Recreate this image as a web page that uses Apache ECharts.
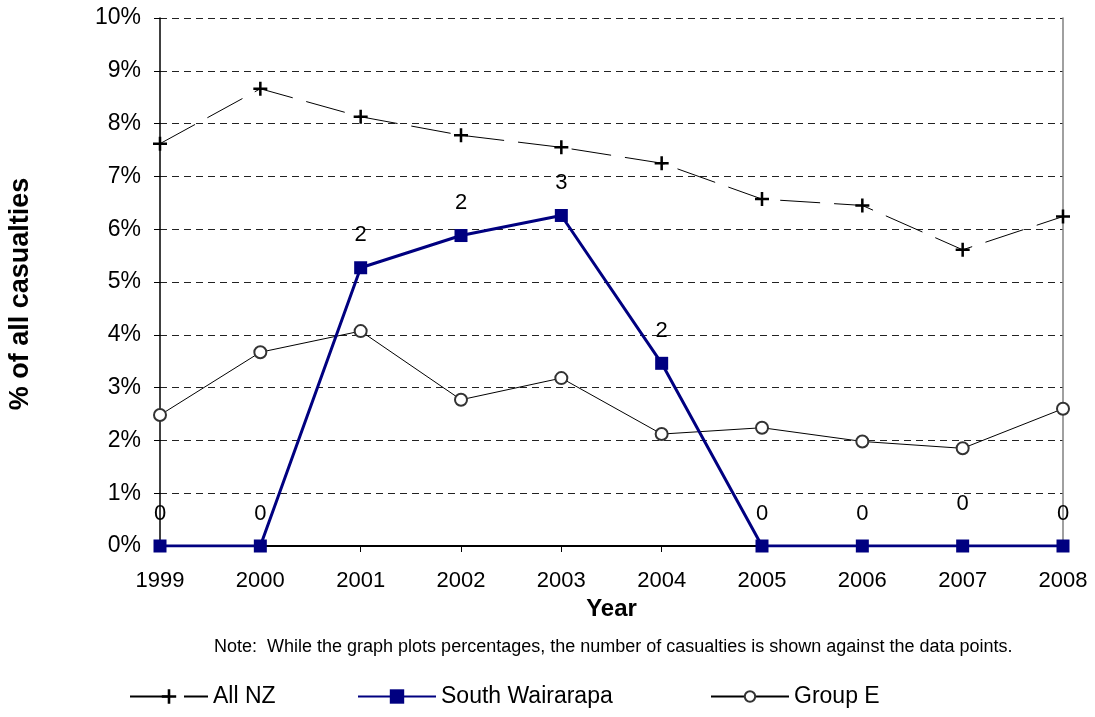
<!DOCTYPE html>
<html>
<head>
<meta charset="utf-8">
<script src="https://cdn.jsdelivr.net/npm/echarts@6/dist/echarts.min.js"></script>
<style>
html,body{margin:0;padding:0;background:#fff;}
#chart{width:1095px;height:717px;}
</style>
</head>
<body>
<div id="chart"></div>
<script>
var years = ['1999','2000','2001','2002','2003','2004','2005','2006','2007','2008'];
var allNZ = [7.62, 8.66, 8.13, 7.78, 7.55, 7.25, 6.57, 6.45, 5.61, 6.24];
var southWairarapa = [0, 0, 5.27, 5.88, 6.26, 3.46, 0, 0, 0, 0];
var southWairarapaCounts = [0, 0, 2, 2, 3, 2, 0, 0, 0, 0];
var groupE = [2.48, 3.67, 4.07, 2.77, 3.18, 2.12, 2.24, 1.98, 1.85, 2.60];
var yTicks = [0,1,2,3,4,5,6,7,8,9,10];
var yTitle = '% of all casualties';
var xTitle = 'Year';
var noteText = 'Note:  While the graph plots percentages, the number of casualties is shown against the data points.';

var FONT = '"Liberation Sans", Arial, sans-serif';
var plusPath = 'path://M4.1,0H5.9V4.1H10V5.9H5.9V10H4.1V5.9H0V4.1H4.1Z';

var swData = southWairarapa.map(function(v, i){
  var item = {value: v};
  if (years[i] === '2007') item.label = {distance: 25};
  return item;
});

var legendText = {fontSize: 23, color: '#000', fontFamily: FONT};

var chart = echarts.init(document.getElementById('chart'), null, {renderer:'canvas'});
chart.setOption({
  animation: false,
  backgroundColor: '#fff',
  textStyle: {fontFamily: FONT},
  grid: {left: 160, right: 32, top: 18, bottom: 171, containLabel: false},
  xAxis: [{
    type: 'category',
    data: years,
    boundaryGap: false,
    axisLine: {lineStyle: {color: '#000', width: 2}},
    axisTick: {show: true, length: 6, lineStyle: {color: '#000'}},
    axisLabel: {color: '#000', fontSize: 22, fontFamily: FONT, margin: 24},
    splitLine: {show: false},
    name: xTitle,
    nameLocation: 'middle',
    nameGap: 50,
    nameTextStyle: {color: '#000', fontSize: 24, fontWeight: 'bold', fontFamily: FONT}
  },{
    type: 'category',
    data: years,
    position: 'top',
    boundaryGap: false,
    axisLine: {lineStyle: {color: '#000', width: 1.5}},
    axisTick: {show: false},
    axisLabel: {show: false},
    splitLine: {show: false}
  }],
  yAxis: [{
    type: 'value',
    min: yTicks[0],
    max: yTicks[yTicks.length-1],
    interval: 1,
    axisLine: {show: true, lineStyle: {color: '#000', width: 1.5}},
    axisTick: {show: true, length: 6, lineStyle: {color: '#000'}},
    axisLabel: {color: '#000', fontSize: 23, fontFamily: FONT, margin: 19, formatter: '{value}%'},
    splitLine: {show: true, lineStyle: {color: '#222', type: [7,5], width: 1}}
  },{
    type: 'value',
    position: 'right',
    min: 0, max: 10, interval: 1,
    axisLine: {show: true, lineStyle: {color: '#808080', width: 1.5}},
    axisTick: {show: false},
    axisLabel: {show: false},
    splitLine: {show: false}
  }],
  legend: [{
    data: ['All NZ'], left: 129, top: 685, padding: 0, itemGap: 0,
    itemWidth: 78, itemHeight: 18, textStyle: legendText
  },{
    data: ['South Wairarapa'], left: 357, top: 685, padding: 0, itemGap: 0,
    itemWidth: 78, itemHeight: 18, textStyle: legendText
  },{
    data: ['Group E'], left: 710, top: 685, padding: 0, itemGap: 0,
    itemWidth: 78, itemHeight: 13, textStyle: legendText
  }],
  graphic: [{
    type: 'text',
    left: 214,
    top: 638,
    style: {text: noteText, fontSize: 18, fill: '#000', fontFamily: FONT}
  },{
    type: 'text',
    x: 21,
    y: 294,
    rotation: Math.PI / 2,
    style: {text: yTitle, fontSize: 27, fontWeight: 'bold', fill: '#000', fontFamily: FONT,
            align: 'center', verticalAlign: 'middle'}
  }],
  series: [{
    name: 'All NZ',
    type: 'line',
    data: allNZ,
    symbol: plusPath,
    symbolSize: 14,
    showAllSymbol: true,
    itemStyle: {color: '#000'},
    lineStyle: {color: '#000', width: 1, type: [40,14]},
    z: 3
  },{
    name: 'Group E',
    type: 'line',
    data: groupE,
    symbol: 'circle',
    symbolSize: 12,
    itemStyle: {color: '#fff', borderColor: '#333', borderWidth: 2},
    lineStyle: {color: '#000', width: 1},
    z: 3
  },{
    name: 'South Wairarapa',
    type: 'line',
    data: swData,
    symbol: 'rect',
    symbolSize: 13,
    itemStyle: {color: '#000080'},
    lineStyle: {color: '#000080', width: 3},
    label: {
      show: true,
      position: 'top',
      distance: 15,
      fontSize: 22,
      color: '#000',
      fontFamily: FONT,
      formatter: function(p){ return southWairarapaCounts[p.dataIndex]; }
    },
    z: 4
  }]
});
</script>
</body>
</html>
